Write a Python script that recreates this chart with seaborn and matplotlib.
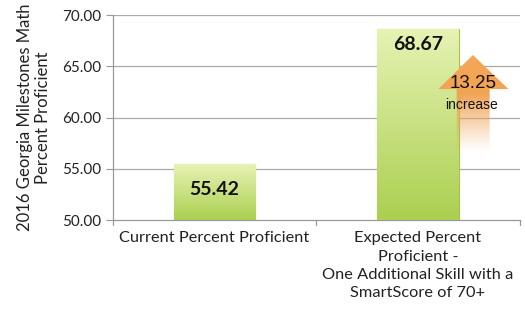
import numpy as np
import pandas as pd
import matplotlib
matplotlib.use("Agg")
import matplotlib.pyplot as plt
import seaborn as sns
from matplotlib.patches import Polygon
from matplotlib.colors import to_rgb

categories = ["Current Percent Proficient",
              "Expected Percent\nProficient -\nOne Additional Skill with a\nSmartScore of 70+"]
values = [55.42, 68.67]
value_labels = ["55.42", "68.67"]
increase_label = "13.25"
y_ticks = [50, 55, 60, 65, 70]
y_label = "2016 Georgia Milestones Math\nPercent Proficient"

sns.set_theme(style="white")
plt.rcParams['font.family'] = ['Lato', 'DejaVu Sans']

df = pd.DataFrame({"cat": categories, "val": values})

fig = plt.figure(figsize=(5.25, 3.2), dpi=100)
ax = fig.add_axes([0.215, 0.3125, 0.775, 0.6405])

sns.barplot(data=df, x="cat", y="val", ax=ax, color="#c4df78", width=0.4,
            edgecolor="#a3c24a", linewidth=0.8, zorder=3)

ax.set_ylim(50, 70)
ax.set_xlim(-0.5, 1.5)
ax.set_yticks(y_ticks)
ax.set_yticklabels([f"{t:.2f}" for t in y_ticks], fontsize=11, color="#222222")
ax.set_ylabel(y_label, fontsize=12, color="#222222", labelpad=8, linespacing=1.15)
ax.set_xlabel("")
ax.set_xticks([0, 1])
ax.set_xticklabels(categories, fontsize=11.8, color="#222222", linespacing=1.4, va="top")
ax.tick_params(axis="x", length=0, pad=8)
ax.tick_params(axis="y", length=5, direction="out", color="#999999", left=True, width=0.8)

for y in y_ticks[1:]:
    ax.axhline(y, color="#aaaaaa", lw=0.9, zorder=1)
for s in ["top", "right"]:
    ax.spines[s].set_visible(False)
for s in ["left", "bottom"]:
    ax.spines[s].set_color("#999999")
    ax.spines[s].set_linewidth(0.9)
# category boundary ticks on bottom
for xb in [-0.5, 0.5, 1.5]:
    ax.plot([xb, xb], [0, -0.025], transform=ax.get_xaxis_transform(),
            color="#999999", lw=0.9, clip_on=False)

# gradient fill of bars
top_c = np.array(to_rgb("#e6f3b4"))
bot_c = np.array(to_rgb("#abcf50"))
grad = np.linspace(0, 1, 256)[:, None]
img = (top_c[None, None, :] * (1 - grad[..., None]) + bot_c[None, None, :] * grad[..., None])
img = np.repeat(img, 2, axis=1)
for patch in ax.patches:
    x0, y0 = patch.get_x(), patch.get_y()
    w, h = patch.get_width(), patch.get_height()
    lo = max(y0, 50)
    im = ax.imshow(img, extent=[x0, x0 + w, lo, y0 + h], origin="upper",
                   aspect="auto", zorder=3.5)
    im.set_clip_path(patch)
ax.set_xlim(-0.5, 1.5)
ax.set_ylim(50, 70)

# value labels
ax.text(0, (50 + values[0]) / 2 + 0.3, value_labels[0], ha="center", va="center",
        fontsize=14, fontweight="bold", color="#111111", zorder=5)
ax.text(1, values[1] - 1.5, value_labels[1], ha="center", va="center",
        fontsize=14, fontweight="bold", color="#111111", zorder=5)

# orange increase arrow (decoration, axes coords)
sl, sr = 0.845, 0.926
hl, hr, tip = 0.80, 0.972, 0.885
yb, yh, yt = 0.30, 0.639, 0.805
arrow = Polygon([(sl, yb), (sl, yh), (hl, yh), (tip, yt),
                 (hr, yh), (sr, yh), (sr, yb)],
                closed=True, transform=ax.transAxes, facecolor="none",
                edgecolor="none", zorder=4)
ax.add_patch(arrow)
n = 256
yy = np.linspace(1, 0, n)
ay = yb + yy * (yt - yb)
alpha = np.clip((ay - 0.33) / (0.62 - 0.33), 0, 1) ** 1.2
c_top = np.array(to_rgb("#f4a858"))
c_bot = np.array(to_rgb("#ee9a48"))
t = ((ay - yb) / (yt - yb))[:, None]
cols = c_bot * (1 - t) + c_top * t
arr_img = np.zeros((n, 2, 4))
arr_img[..., :3] = cols[:, None, :]
arr_img[..., 3] = alpha[:, None]
aim = ax.imshow(arr_img, extent=[hl - 0.01, hr + 0.01, yb, yt], transform=ax.transAxes,
                origin="upper", aspect="auto", zorder=4)
aim.set_clip_path(arrow)
ax.set_xlim(-0.5, 1.5)
ax.set_ylim(50, 70)

ax.text(0.885, 0.668, increase_label, transform=ax.transAxes, ha="center",
        va="center", fontsize=13.5, color="#111111", family="Liberation Sans", zorder=6)
ax.text(0.882, 0.561, "increase", transform=ax.transAxes, ha="center",
        va="center", fontsize=10, color="#111111", family="Liberation Sans", zorder=6)

fig.savefig("out.png", dpi=100)
